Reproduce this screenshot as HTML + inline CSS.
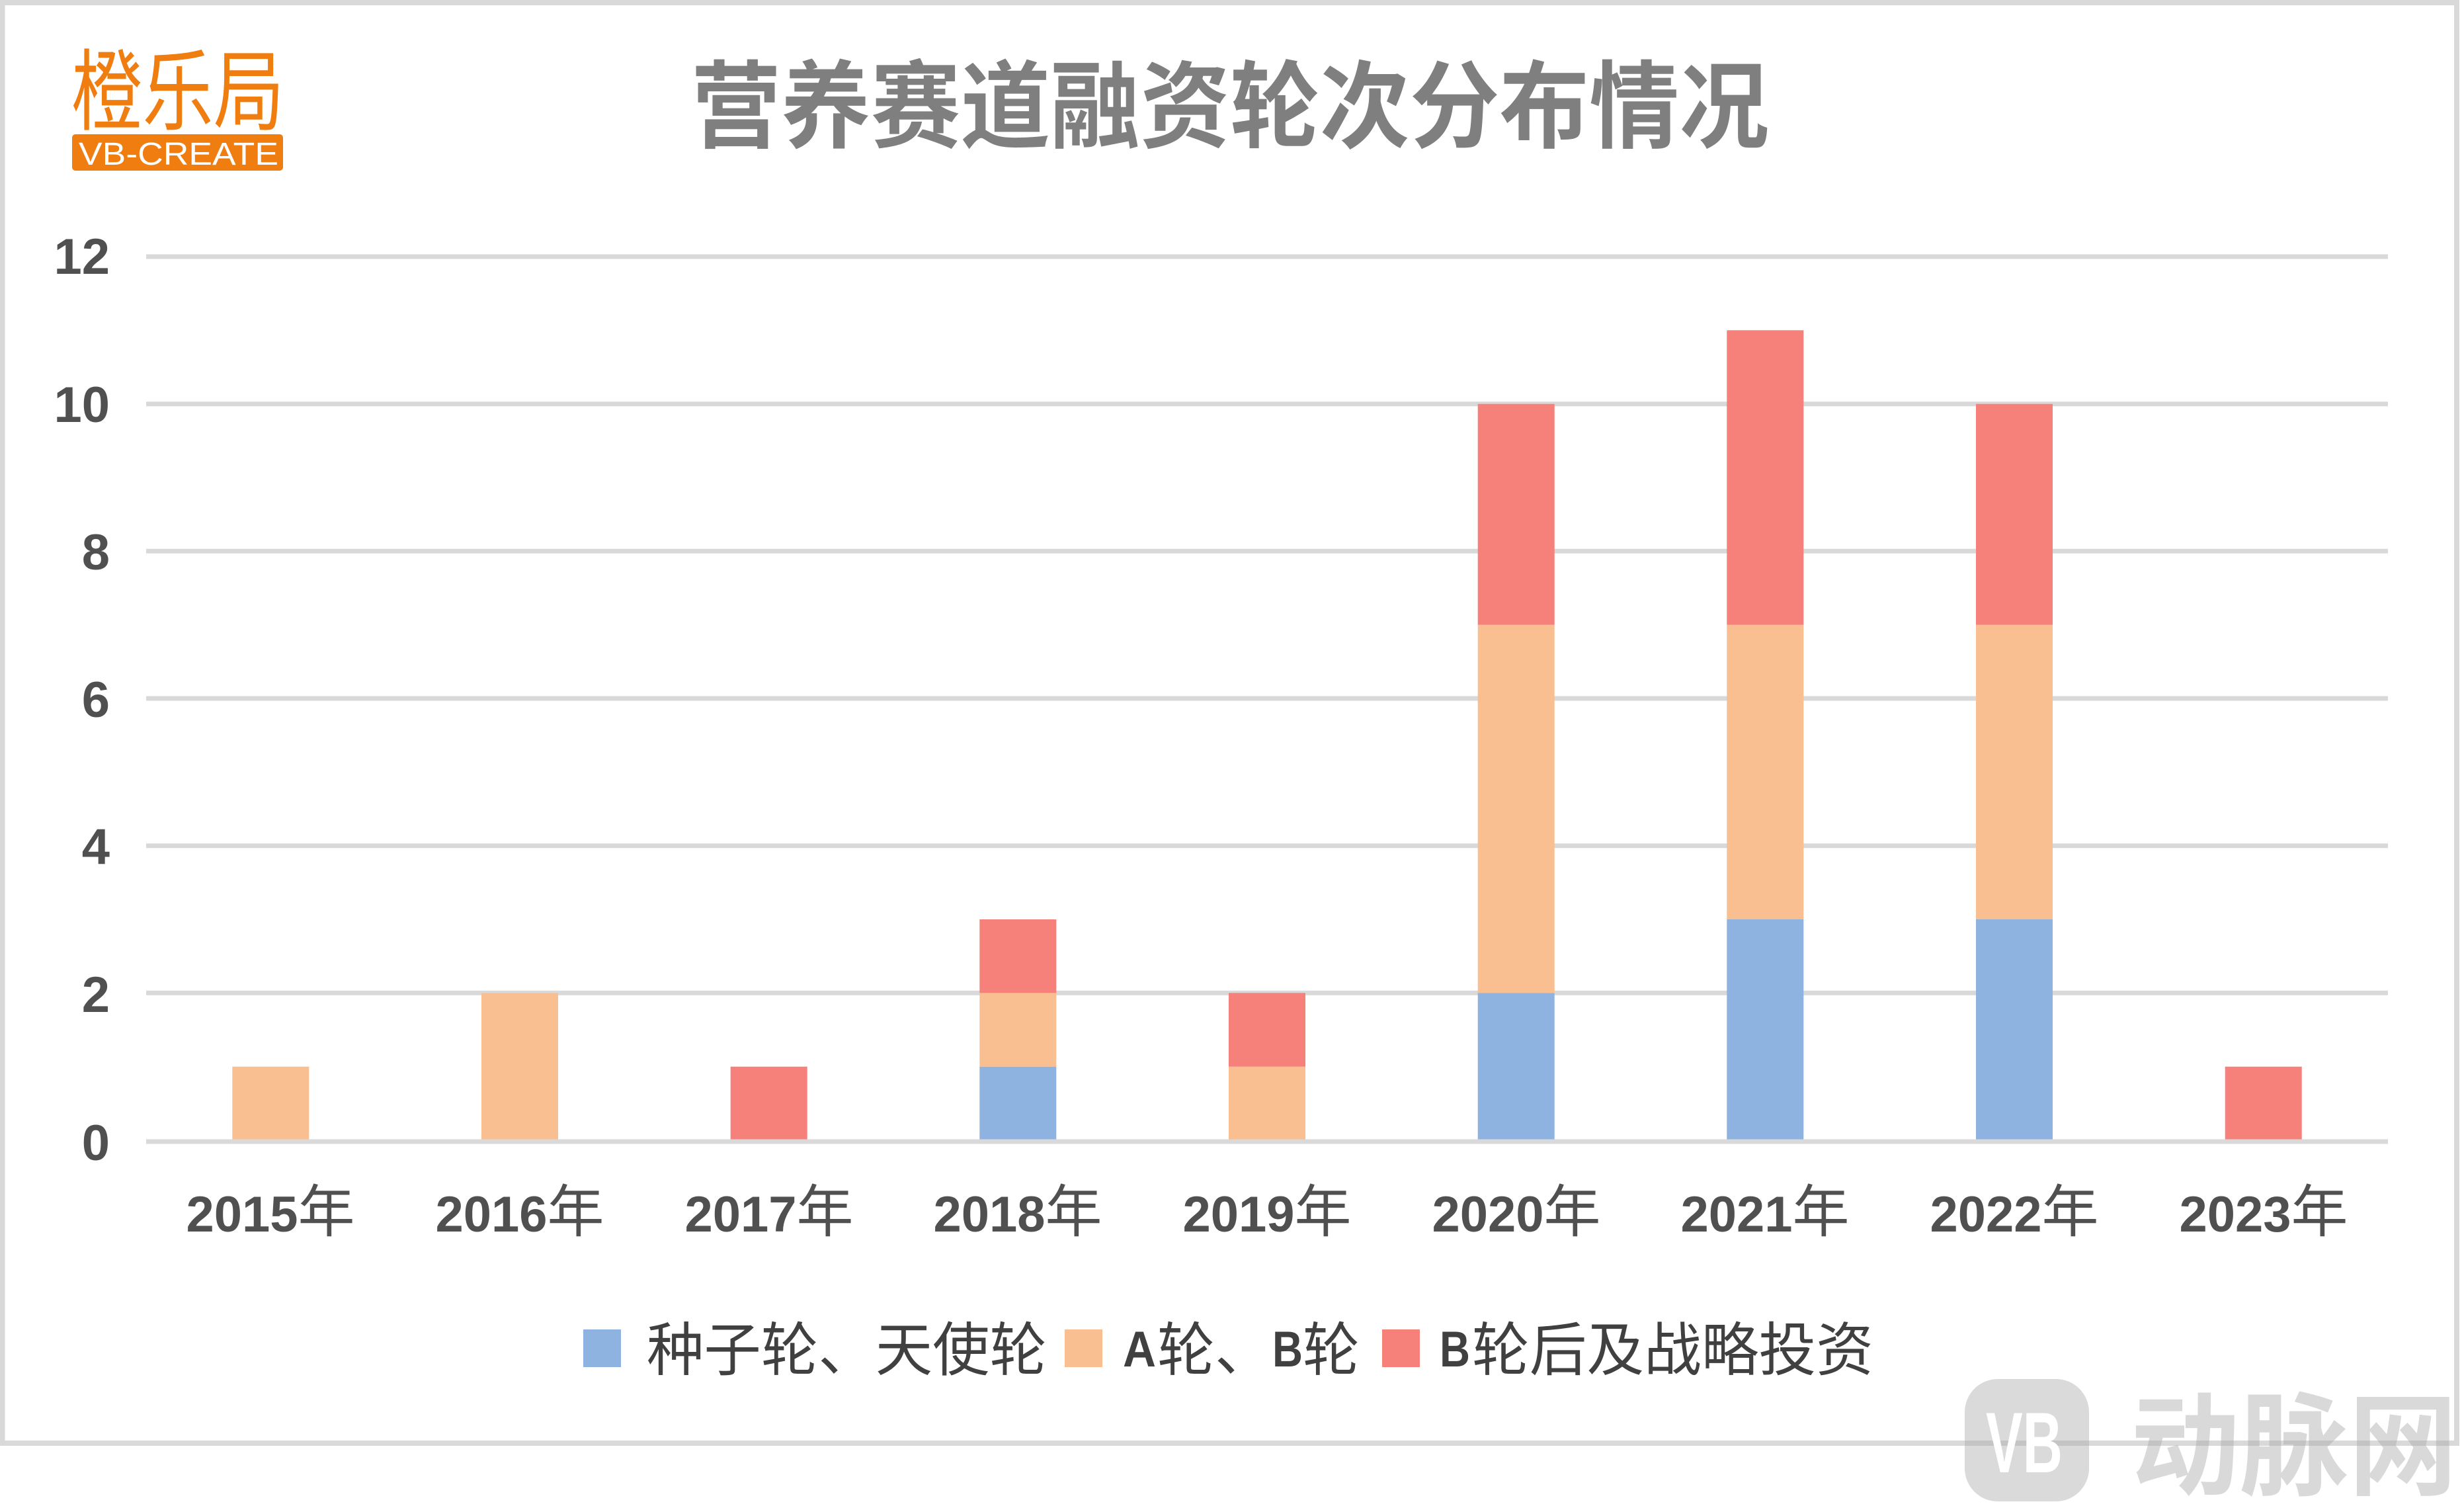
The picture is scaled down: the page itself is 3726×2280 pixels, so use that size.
<!DOCTYPE html>
<html>
<head>
<meta charset="utf-8">
<style>
html,body{margin:0;padding:0;background:#fff;}
body{width:3726px;height:2280px;overflow:hidden;}
svg{display:block;}
</style>
</head>
<body>
<svg width="3726" height="2280" viewBox="0 0 3726 2280" xmlns="http://www.w3.org/2000/svg">
  <rect x="0" y="0" width="3726" height="2280" fill="#ffffff"/>
  <!-- outer frame -->
  <rect x="3.5" y="4" width="3711.5" height="2178" fill="none" stroke="#d9d9d9" stroke-width="8"/>

  <!-- logo -->
  <text x="108" y="186" font-family="'Noto Sans CJK SC', sans-serif" font-size="134" fill="#ef7d10" textLength="322" lengthAdjust="spacingAndGlyphs">橙乐局</text>
  <rect x="109" y="203" width="319" height="55" rx="5" fill="#ef7d10"/>
  <text x="119" y="249" font-family="'Liberation Sans', sans-serif" font-size="48" fill="#ffffff" textLength="302" lengthAdjust="spacingAndGlyphs">VB-CREATE</text>

  <!-- title -->
  <text x="1045" y="212" font-family="'Liberation Sans','Noto Sans CJK SC', sans-serif" font-weight="bold" font-size="144" fill="#7f7f7f" textLength="1630" lengthAdjust="spacingAndGlyphs">营养赛道融资轮次分布情况</text>

  <!-- gridlines -->
  <g stroke="#d9d9d9" stroke-width="7">
    <line x1="221" y1="388" x2="3611" y2="388"/>
    <line x1="221" y1="610.7" x2="3611" y2="610.7"/>
    <line x1="221" y1="833.3" x2="3611" y2="833.3"/>
    <line x1="221" y1="1056" x2="3611" y2="1056"/>
    <line x1="221" y1="1278.7" x2="3611" y2="1278.7"/>
    <line x1="221" y1="1501.3" x2="3611" y2="1501.3"/>
  </g>

  <!-- bars -->
  <g>
    <rect x="351.3" y="1612.7" width="116" height="111.3" fill="#f9bf91"/>
    <rect x="728" y="1501.3" width="116" height="222.7" fill="#f9bf91"/>
    <rect x="1104.7" y="1612.7" width="116" height="111.3" fill="#f6807a"/>
    <rect x="1481.3" y="1612.7" width="116" height="111.3" fill="#8eb3e1"/>
    <rect x="1481.3" y="1501.3" width="116" height="111.4" fill="#f9bf91"/>
    <rect x="1481.3" y="1390" width="116" height="111.3" fill="#f6807a"/>
    <rect x="1858" y="1612.7" width="116" height="111.3" fill="#f9bf91"/>
    <rect x="1858" y="1501.3" width="116" height="111.4" fill="#f6807a"/>
    <rect x="2234.7" y="1501.3" width="116" height="222.7" fill="#8eb3e1"/>
    <rect x="2234.7" y="944.7" width="116" height="556.6" fill="#f9bf91"/>
    <rect x="2234.7" y="610.7" width="116" height="334" fill="#f6807a"/>
    <rect x="2611.3" y="1390" width="116" height="334" fill="#8eb3e1"/>
    <rect x="2611.3" y="944.7" width="116" height="445.3" fill="#f9bf91"/>
    <rect x="2611.3" y="499.3" width="116" height="445.4" fill="#f6807a"/>
    <rect x="2988" y="1390" width="116" height="334" fill="#8eb3e1"/>
    <rect x="2988" y="944.7" width="116" height="445.3" fill="#f9bf91"/>
    <rect x="2988" y="610.7" width="116" height="334" fill="#f6807a"/>
    <rect x="3364.7" y="1612.7" width="116" height="111.3" fill="#f6807a"/>
  </g>
  <line x1="221" y1="1726" x2="3611" y2="1726" stroke="#d9d9d9" stroke-width="7"/>

  <!-- y labels -->
  <g font-family="'Liberation Sans', sans-serif" font-weight="bold" font-size="76" fill="#505050" text-anchor="end">
    <text x="166" y="414">12</text>
    <text x="166" y="638">10</text>
    <text x="166" y="861">8</text>
    <text x="166" y="1084">6</text>
    <text x="166" y="1306">4</text>
    <text x="166" y="1530">2</text>
    <text x="166" y="1754">0</text>
  </g>

  <!-- x labels -->
  <g fill="#505050" text-anchor="middle">
    <text x="409" y="1862"><tspan font-family="'Liberation Sans', sans-serif" font-weight="bold" font-size="76">2015</tspan><tspan font-family="'Noto Sans CJK SC', sans-serif" font-size="86">年</tspan></text>
    <text x="786" y="1862"><tspan font-family="'Liberation Sans', sans-serif" font-weight="bold" font-size="76">2016</tspan><tspan font-family="'Noto Sans CJK SC', sans-serif" font-size="86">年</tspan></text>
    <text x="1163" y="1862"><tspan font-family="'Liberation Sans', sans-serif" font-weight="bold" font-size="76">2017</tspan><tspan font-family="'Noto Sans CJK SC', sans-serif" font-size="86">年</tspan></text>
    <text x="1539" y="1862"><tspan font-family="'Liberation Sans', sans-serif" font-weight="bold" font-size="76">2018</tspan><tspan font-family="'Noto Sans CJK SC', sans-serif" font-size="86">年</tspan></text>
    <text x="1916" y="1862"><tspan font-family="'Liberation Sans', sans-serif" font-weight="bold" font-size="76">2019</tspan><tspan font-family="'Noto Sans CJK SC', sans-serif" font-size="86">年</tspan></text>
    <text x="2293" y="1862"><tspan font-family="'Liberation Sans', sans-serif" font-weight="bold" font-size="76">2020</tspan><tspan font-family="'Noto Sans CJK SC', sans-serif" font-size="86">年</tspan></text>
    <text x="2669" y="1862"><tspan font-family="'Liberation Sans', sans-serif" font-weight="bold" font-size="76">2021</tspan><tspan font-family="'Noto Sans CJK SC', sans-serif" font-size="86">年</tspan></text>
    <text x="3046" y="1862"><tspan font-family="'Liberation Sans', sans-serif" font-weight="bold" font-size="76">2022</tspan><tspan font-family="'Noto Sans CJK SC', sans-serif" font-size="86">年</tspan></text>
    <text x="3423" y="1862"><tspan font-family="'Liberation Sans', sans-serif" font-weight="bold" font-size="76">2023</tspan><tspan font-family="'Noto Sans CJK SC', sans-serif" font-size="86">年</tspan></text>
  </g>

  <!-- legend -->
  <rect x="882" y="2010" width="57" height="57" fill="#8eb3e1"/>
  <text x="978" y="2072" font-family="'Noto Sans CJK SC', sans-serif" font-size="88" fill="#404040" textLength="605" lengthAdjust="spacingAndGlyphs">种子轮、天使轮</text>

  <rect x="1610" y="2010" width="57" height="57" fill="#f9bf91"/>
  <text x="1698" y="2066" font-family="'Liberation Sans', sans-serif" font-weight="bold" font-size="76" fill="#404040" textLength="50" lengthAdjust="spacingAndGlyphs">A</text>
  <text x="1750" y="2072" font-family="'Noto Sans CJK SC', sans-serif" font-size="88" fill="#404040" textLength="174" lengthAdjust="spacingAndGlyphs">轮、</text>
  <text x="1924" y="2066" font-family="'Liberation Sans', sans-serif" font-weight="bold" font-size="76" fill="#404040" textLength="46" lengthAdjust="spacingAndGlyphs">B</text>
  <text x="1970" y="2072" font-family="'Noto Sans CJK SC', sans-serif" font-size="88" fill="#404040" textLength="86" lengthAdjust="spacingAndGlyphs">轮</text>

  <rect x="2090" y="2010" width="57" height="57" fill="#f6807a"/>
  <text x="2177" y="2066" font-family="'Liberation Sans', sans-serif" font-weight="bold" font-size="76" fill="#404040" textLength="46" lengthAdjust="spacingAndGlyphs">B</text>
  <text x="2226" y="2072" font-family="'Noto Sans CJK SC', sans-serif" font-size="88" fill="#404040" textLength="607" lengthAdjust="spacingAndGlyphs">轮后及战略投资</text>

  <!-- watermark -->
  <g opacity="0.42">
    <rect x="2971" y="2085" width="188" height="185" rx="50" ry="50" fill="#a6a6a6"/>
    <text x="3222" y="2247" font-family="'Noto Sans CJK SC', sans-serif" font-weight="bold" font-size="170" fill="#a6a6a6" textLength="494" lengthAdjust="spacingAndGlyphs">动脉网</text>
  </g>
  <text x="3003" y="2226" font-family="'Liberation Sans', sans-serif" font-weight="bold" font-size="130" fill="#ffffff" textLength="116" lengthAdjust="spacingAndGlyphs">VB</text>
</svg>
</body>
</html>
